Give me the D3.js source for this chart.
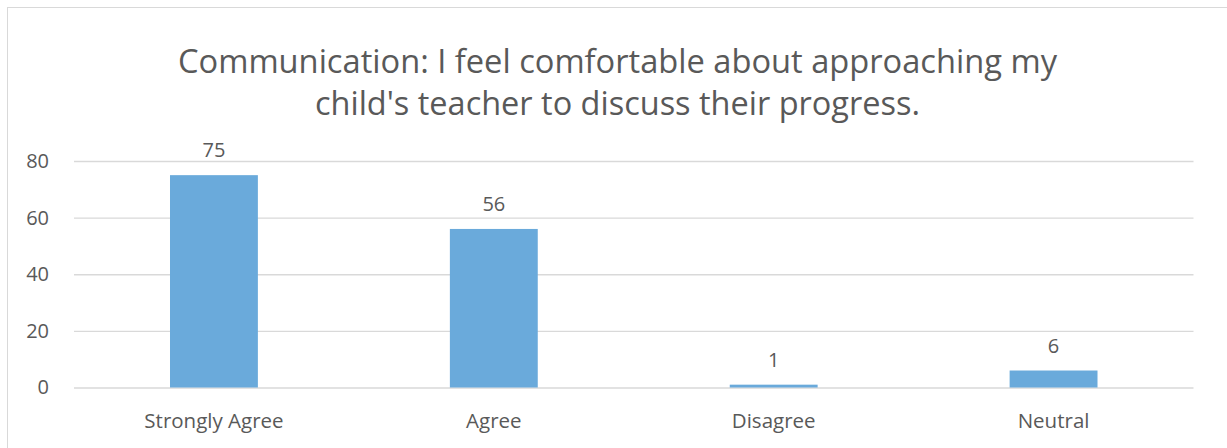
<!DOCTYPE html>
<html>
<head>
<meta charset="utf-8">
<script src="https://cdn.jsdelivr.net/npm/d3@7"></script>
<style>
  html, body { margin: 0; padding: 0; background: #fff; }
  svg { display: block; }
  text { font-family: "Open Sans", "DejaVu Sans", sans-serif; fill: #595959; }
</style>
</head>
<body>
<svg id="chart" width="1227" height="448"></svg>
<script>
const categories = ["Strongly Agree", "Agree", "Disagree", "Neutral"];
const values = [75, 56, 1, 6];
const yTicks = [0, 20, 40, 60, 80];
const titleLines = ["Communication: I feel comfortable about approaching my",
                    "child's teacher to discuss their progress."];

const svg = d3.select("#chart");
const W = 1227, H = 448;

// outer chart border
svg.append("rect")
  .attr("x", 7.5).attr("y", 7.5)
  .attr("width", W + 20).attr("height", H + 20)
  .attr("fill", "#fff").attr("stroke", "#d9d9d9").attr("stroke-width", 1);

const plot = { left: 74, right: 1193.5, top: 161, bottom: 387.5 };

const x = d3.scaleBand().domain(categories)
  .range([plot.left, plot.right]).paddingInner(0.686).paddingOuter(0.343);
const y = d3.scaleLinear().domain([0, 80]).range([plot.bottom, plot.top]);

// title
const titleWidths = [879, 605];
const titleBase = [73, 115];
titleLines.forEach((t, i) => {
  svg.append("text")
    .attr("x", 617.5).attr("y", titleBase[i])
    .attr("text-anchor", "middle")
    .attr("font-size", 33)
    .attr("textLength", titleWidths[i])
    .attr("lengthAdjust", "spacingAndGlyphs")
    .text(t);
});

// gridlines
const yAxis = d3.axisLeft(y).tickValues(yTicks)
  .tickSize(-(plot.right - plot.left)).tickPadding(25);
const gy = svg.append("g").attr("transform", `translate(${plot.left},0)`).call(yAxis);
gy.select(".domain").remove();
gy.selectAll(".tick line").attr("stroke", "#d9d9d9").attr("stroke-width", 1.3);
gy.selectAll(".tick text")
  .attr("font-size", 20)
  .attr("fill", "#595959")
  .style("font-family", '"Open Sans", "DejaVu Sans", sans-serif');

// bars
svg.append("g").selectAll("rect").data(categories).join("rect")
  .attr("x", d => x(d))
  .attr("y", (d, i) => y(values[i]))
  .attr("width", x.bandwidth())
  .attr("height", (d, i) => y(0) - y(values[i]))
  .attr("fill", "#6aaadb");

// data labels
svg.append("g").selectAll("text").data(categories).join("text")
  .attr("x", d => x(d) + x.bandwidth() / 2)
  .attr("y", (d, i) => y(values[i]) - 18)
  .attr("text-anchor", "middle")
  .attr("font-size", 20)
  .text((d, i) => values[i]);

// x axis labels
const xAxis = d3.axisBottom(x).tickSize(0).tickPadding(0);
const gx = svg.append("g").attr("transform", `translate(0,${plot.bottom})`).call(xAxis);
gx.select(".domain").remove();
gx.selectAll(".tick text")
  .attr("y", 40).attr("dy", null)
  .attr("font-size", 20.5)
  .attr("fill", "#595959")
  .style("font-family", '"Open Sans", "DejaVu Sans", sans-serif');
</script>
</body>
</html>
